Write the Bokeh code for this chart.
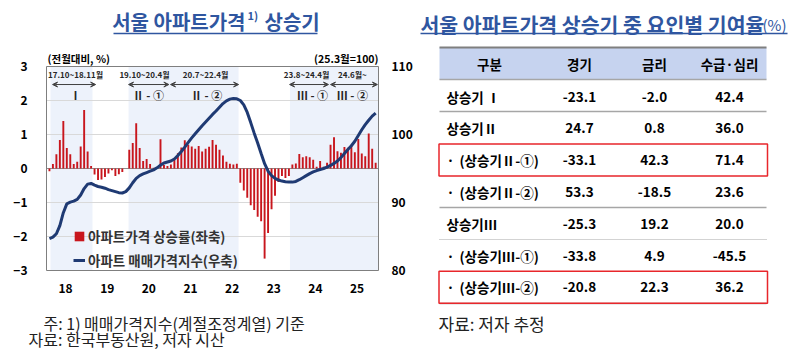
from bokeh.plotting import figure
from bokeh.models import (Range1d, LinearAxis, FixedTicker, Label, Arrow, VeeHead,
                          Legend, LegendItem)
from bokeh.embed import file_html
from bokeh.resources import INLINE
from bokeh.core.properties import value

FONT = "Noto Sans CJK KR"
TITLE_BLUE = "#2f56a0"
BAR_RED = "#c8161d"
LINE_NAVY = "#1f3a73"
SHADE = "#edf2fb"

# ---------------- data ----------------
start_year, start_month = 2017, 10   # first monthly observation
apt_change = [  # 아파트가격 상승률 (%, 전월대비)
    -0.08, 0.13, 0.42, 0.84, 1.40, 0.60, 0.42, 0.13, 0.20, 0.65, 1.72, 0.50, 0.07,
    -0.18, -0.34, -0.32, -0.25, -0.15, -0.05, -0.22, -0.17, -0.10, 0.00,
    0.55, 0.75, 1.33, 0.60, 0.22, 0.28, 0.13, 0.02, 0.04, 0.86,
    0.10, 0.07, 0.12, 0.25, 0.45, 0.62, 0.83, 0.70, 0.65, 0.58, 0.66, 0.50,
    0.58, 0.64, 0.84, 0.70, 0.55, 0.38, 0.20, 0.14, 0.12, 0.14,
    -0.42, -0.65, -0.86, -1.08, -1.22, -1.42, -1.55, -2.65, -1.90, -1.20,
    -0.80, -0.40, -0.22, -0.28, -0.22,
    0.12, 0.15, 0.43, 0.33, 0.36, 0.33, 0.26, 0.05, 0.22, 0.05, 0.17,
    0.70, 0.92, 0.51, 0.46, 0.63, 0.61, 0.70, 0.48, 0.87, 0.44, 0.36, 1.03, 0.58, 0.17,
]
apt_index = [  # 아파트 매매가격지수 (25.3월=100)
    84.7, 84.9, 85.4, 86.6, 88.5, 89.8, 90.05, 90.2, 90.45, 91.1, 92.05, 92.7, 92.8,
    92.55, 92.35, 92.25, 92.1, 91.9, 91.75, 91.6, 91.45, 91.4, 91.6,
    92.15, 92.9, 93.55, 93.95, 94.2, 94.4, 94.6, 94.8, 95.1, 95.5,
    95.8, 95.95, 96.1, 96.4, 96.9, 97.5, 98.15, 98.85, 99.5, 100.1, 100.7, 101.3,
    101.85, 102.4, 102.95, 103.45, 104.0, 104.55, 104.95, 105.2, 105.3, 105.25,
    105.0, 104.35, 103.25, 101.75, 100.2, 98.75, 97.2, 95.7, 94.6, 93.95,
    93.55, 93.3, 93.15, 93.05, 93.0,
    93.0, 93.1, 93.35, 93.65, 93.95, 94.25, 94.5, 94.7, 94.85, 95.0, 95.2,
    95.45, 95.75, 96.1, 96.6, 97.2, 97.8, 98.35, 99.0, 99.85, 100.7, 101.45, 102.1, 102.7, 103.15,
]
years = [2018, 2019, 2020, 2021, 2022, 2023, 2024, 2025]
year_labels = ["18", "19", "20", "21", "22", "23", "24", "25"]
left_ticks = [-3, -2, -1, 0, 1, 2, 3]
right_ticks = [80, 90, 100, 110]

period_dates = ["17.10~18.11월", "19.10~20.4월", "20.7~22.4월", "23.8~24.4월", "24.6월~"]
period_names = ["Ⅰ", "Ⅱ - ①", "Ⅱ - ②", "Ⅲ - ①", "Ⅲ - ②"]

table_cols = ["구분", "경기", "금리", "수급·심리"]
table_rows = ["상승기 Ⅰ", "상승기Ⅱ", "(상승기Ⅱ-①)", "(상승기Ⅱ-②)", "상승기Ⅲ", "(상승기Ⅲ-①)", "(상승기Ⅲ-②)"]
sub_row = [False, False, True, True, False, True, True]
econ = [-23.1, 24.7, -33.1, 53.3, -25.3, -33.8, -20.8]
rate = [-2.0, 0.8, 42.3, -18.5, 19.2, 4.9, 22.3]
supply = [42.4, 36.0, 71.4, 23.6, 20.0, -45.5, 36.2]
highlight_rows = [2, 6]

# ---------------- geometry ----------------
W, H = 800, 351
FL, FR, FT, FB = 46, 378, 66, 270          # chart box in page pixels
X0, X1 = -0.85, 94.82                      # month-index extent of chart box
Y0, Y1 = -3, 3                             # % extent of chart box
I0, I1 = 80, 110                           # index extent of chart box
sx = (FR - FL) / (X1 - X0)
sy = (FB - FT) / (Y1 - Y0)
si = (FB - FT) / (I1 - I0)

p = figure(width=W, height=H,
           x_range=Range1d(X0 - FL / sx, X1 + (W - FR) / sx),
           y_range=Range1d(Y0 - (H - FB) / sy, Y1 + FT / sy),
           min_border=0, toolbar_location=None, output_backend="svg")
p.title.visible = False
p.extra_y_ranges = {"idx": Range1d(I0 - (H - FB) / si, I1 + FT / si),
                    "py": Range1d(H, 0)}
p.extra_x_ranges = {"px": Range1d(0, W)}
p.outline_line_color = None
p.grid.visible = False

months = list(range(len(apt_change)))

# shaded periods (month-index extents)
shade_extent = [(0.3, 12.4), (22.8, 54.5), (69.3, X1)]
p.quad(left=[a for a, b in shade_extent], right=[b for a, b in shade_extent],
       bottom=[Y0] * 3, top=[Y1] * 3, fill_color=SHADE, line_color=None)
gl = [t for t in left_ticks if t not in (0, Y0, Y1)]
p.segment(x0=[X0] * len(gl), y0=gl, x1=[X1] * len(gl), y1=gl,
          line_color="#d9d9d9", line_width=1)
p.segment(x0=[X0], y0=[0], x1=[X1], y1=[0], line_color="#8c8c8c", line_width=1)

bars = p.vbar(x=months, top=apt_change, width=0.55, fill_color=BAR_RED, line_color=None)
idx_line = p.line(months, apt_index, y_range_name="idx", line_color=LINE_NAVY, line_width=3)
p.quad(left=[X0], right=[X1], bottom=[Y0], top=[Y1], fill_color=None,
       line_color="#7f7f7f", line_width=1)

# axes pinned to the chart box
jan_idx = [(y - start_year) * 12 + (1 - start_month) for y in years]
xt = [j + 1.65 for j in jan_idx]
p.xaxis.fixed_location = Y0
p.xaxis.ticker = FixedTicker(ticks=xt)
p.xaxis.major_label_overrides = {t: lab for t, lab in zip(xt, year_labels)}
p.yaxis.fixed_location = X0
p.yaxis.ticker = FixedTicker(ticks=left_ticks)
raxis = LinearAxis(y_range_name="idx", ticker=FixedTicker(ticks=right_ticks), fixed_location=X1)
p.add_layout(raxis, "right")
for ax, standoff in ((p.xaxis[0], 7), (p.yaxis[0], 13), (raxis, 7)):
    ax.axis_line_color = None
    ax.major_tick_line_color = None
    ax.minor_tick_line_color = None
    ax.major_label_standoff = standoff
    ax.major_label_text_font = FONT
    ax.major_label_text_font_style = "bold"
    ax.major_label_text_font_size = "12px"
    ax.major_label_text_color = "#000000"

# period annotations
date_x = [7.5, 27.4, 45.0, 74.1, 87.3]
name_x = [7.5, 28.5, 45.3, 75.8, 87.3]
arrow_ext = [(0.9, 13.3), (22.8, 34.4), (34.9, 54.5), (69.2, 80.4), (81.0, 94.5)]
for dx, nx, (a0, a1), dt, nm in zip(date_x, name_x, arrow_ext, period_dates, period_names):
    p.add_layout(Label(x=dx, y=2.76, text=dt, text_align="center", text_baseline="middle",
                       text_font=FONT, text_font_size="8px", text_font_style="bold",
                       text_color="#262626"))
    p.add_layout(Label(x=nx, y=2.15, text=nm, text_align="center", text_baseline="middle",
                       text_font=FONT, text_font_size="11px", text_font_style="bold",
                       text_color="#262626"))
    p.add_layout(Arrow(x_start=a0, y_start=2.47, x_end=a1, y_end=2.47,
                       start=VeeHead(size=5, line_color="#404040", fill_color="#404040", line_width=1),
                       end=VeeHead(size=5, line_color="#404040", fill_color="#404040", line_width=1),
                       line_color="#404040", line_width=1))

legend = Legend(items=[LegendItem(label="아파트가격 상승률(좌축)", renderers=[bars]),
                       LegendItem(label="아파트 매매가격지수(우축)", renderers=[idx_line])],
                location=(FL + 27, H - FB), background_fill_alpha=0, border_line_color=None,
                glyph_width=12, glyph_height=12, label_height=12, label_standoff=3,
                spacing=4, padding=0, margin=0,
                label_text_font=FONT, label_text_font_size="13.5px",
                label_text_font_style="bold", label_text_color="#333333")
p.add_layout(legend)

# ---------------- texts & table (page-pixel coordinates) ----------------
def txt(xs, ys, texts, size, align="left", style="normal", color="#222222"):
    p.text(x=xs, y=ys, text=texts, x_range_name="px", y_range_name="py",
           text_font=value(FONT), text_font_size=size, text_font_style=style,
           text_color=color, text_align=align, text_baseline="middle")

def hl(x0, x1, ys, color, width, dash="solid"):
    p.segment(x0=[x0] * len(ys), y0=ys, x1=[x1] * len(ys), y1=ys,
              x_range_name="px", y_range_name="py", line_color=color,
              line_width=width, line_dash=dash)

# left titles and notes
txt([245], [21], ["서울 아파트가격"], "20px", "right", "bold", TITLE_BLUE)
txt([247], [14], ["1)"], "11px", "left", "bold", TITLE_BLUE)
txt([264], [21], ["상승기"], "20px", "left", "bold", TITLE_BLUE)
hl(113, 317, [33], TITLE_BLUE, 1.5)
txt([47], [58], ["(전월대비, %)"], "10.5px", "left", "bold", "#000000")
txt([378], [58], ["(25.3월=100)"], "10.5px", "right", "bold", "#000000")
txt([43], [322], ["주: 1) 매매가격지수(계절조정계열)  기준"], "16px")
txt([28], [338], ["자료: 한국부동산원, 저자 시산"], "16px")

# right title
txt([420], [23], ["서울 아파트가격 상승기 중 요인별 기여율"], "20.5px", "left", "bold", TITLE_BLUE)
txt([762], [24], ["(%)"], "15px", "left", "normal", TITLE_BLUE)
hl(420, 787, [33], TITLE_BLUE, 1.5)

# table
TL, TR = 439, 766
p.quad(left=[TL], right=[TR], top=[47], bottom=[79], x_range_name="px", y_range_name="py",
       fill_color="#c6d3ef", line_color=None)
hl(TL, TR, [47], "#7f7f7f", 2)
hl(TL, TR, [79, 111, 207, 303], "#a6a6a6", 1.5)
hl(TL, TR, [239], "#a6a6a6", 1, "1 1")

col_x = [489, 579, 654, 729]
txt(col_x, [63] * 4, table_cols, "13.5px", "center", "bold", "#000000")

row_y = [96 + 31.8 * i for i in range(len(table_rows))]
lab_x = [459 if s else 446 for s in sub_row]
txt(lab_x, row_y, table_rows, "13.5px", "left", "bold", "#000000")
bul_y = [y for y, s in zip(row_y, sub_row) if s]
txt([450] * len(bul_y), bul_y, ["·"] * len(bul_y), "13.5px", "center", "bold", "#000000")
for cx, col in zip(col_x[1:], (econ, rate, supply)):
    txt([cx] * len(col), row_y, [f"{v:.1f}" for v in col], "13.5px", "center", "bold", "#000000")

hy = [row_y[i] for i in highlight_rows]
p.quad(left=[TL - 0.5] * len(hy), right=[TR + 1] * len(hy), top=[y - 16 for y in hy],
       bottom=[y + 16 for y in hy], x_range_name="px", y_range_name="py",
       fill_color=None, line_color="#e8262b", line_width=1.5)

txt([438], [323], ["자료: 저자 추정"], "17px")

open("out.html", "w").write(file_html(p, INLINE))
